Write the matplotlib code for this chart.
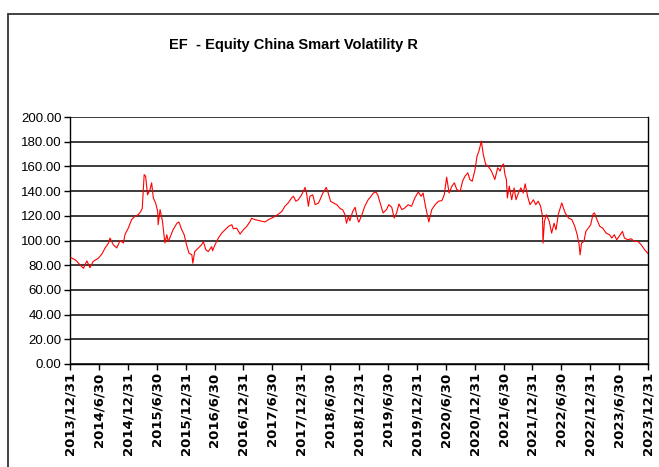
import matplotlib
matplotlib.use('Agg')
import matplotlib.pyplot as plt
from matplotlib.patches import Rectangle

# readings: month offset from 2013/12/31, NAV value
months = [0.2, 1.2, 2.4, 2.8, 3.5, 4.15, 4.8, 5.9, 6.6, 7.3, 8.0, 8.3, 9.0, 9.7,
          10.4, 11.1, 11.4, 12.1, 12.8, 13.5, 14.2, 14.7, 15.0, 15.4, 15.7, 16.1,
          16.6, 16.95, 17.3, 17.8, 18.2, 18.3, 18.7, 19.2, 19.7, 20.1, 20.4, 21.0,
          21.4, 22.2, 22.6, 23.2, 23.7, 24.2, 24.7, 25.3, 25.5, 25.9, 26.6, 27.3,
          27.7, 28.2, 28.7, 29.4,
          29.6, 30.1, 30.8, 31.5, 32.2, 32.9, 33.6, 33.9, 34.6, 35.3, 36.0, 36.7,
          37.4, 37.7, 38.4, 39.4, 40.5, 41.2, 41.9, 42.6, 43.3, 44.0, 44.6, 45.3,
          46.0, 46.4, 46.9, 47.4, 48.1, 48.8, 49.1, 49.5, 49.8, 50.4, 50.9, 51.6,
          51.9, 52.5, 53.2, 53.6, 54.1, 54.7, 55.4, 56.1, 56.6, 57.1, 57.4, 57.8,
          58.1, 58.7, 59.2, 59.5, 59.9,
          60.0, 60.6, 61.2, 61.9, 62.5, 63.0, 63.5, 63.9, 64.4, 65.0, 65.7, 66.2,
          66.8, 67.3, 67.8, 68.3, 68.9, 69.5, 70.2, 70.9, 71.6, 72.3, 72.9, 73.3,
          73.8, 74.5, 75.1, 75.8, 76.5, 77.2, 77.7, 78.2, 78.7, 79.3, 79.8, 80.3,
          81.0, 81.5, 82.0, 82.6, 83.0, 83.5, 84.1, 84.5, 84.9, 85.4, 85.8, 86.3,
          86.8, 87.5, 88.2, 88.8, 89.3,
          89.6, 90.0, 90.3, 90.6, 90.8, 91.2, 91.7, 92.2, 92.6, 93.1, 93.6, 94.1,
          94.5, 95.0, 95.5, 96.2, 96.7, 97.2, 97.7, 98.1, 98.2, 98.5, 98.9, 99.5,
          100.0, 100.5, 100.9, 101.4, 102.1, 102.8, 103.5, 104.2, 104.8, 105.3,
          105.7, 105.9, 106.2, 106.7, 107.1, 107.6, 108.1, 108.6, 108.9, 109.4,
          110.0, 110.6, 111.3, 112.0, 112.5, 113.0, 113.5, 114.0, 114.7, 115.1,
          115.8, 116.5, 117.2, 117.9, 118.6, 119.3, 120.0]
nav = [86.2, 84, 79, 77.5, 83.5, 78, 83, 85.7, 89, 94, 98, 102, 96.5, 94,
       100, 98, 104.7, 110, 117, 119.6, 121, 123.6, 126, 153.4, 152, 137,
       141, 146.7, 134.5, 130, 123.6, 112.8, 125, 115.5, 98, 104.7, 99, 104.7,
       108.7, 114, 115, 108.7, 104.7, 96.5, 89.8, 88.4, 81.6, 91, 93.8, 96.5,
       99, 92.5, 91, 95,
       91.7, 96.5, 102, 106, 108.7, 111.4, 112.8, 109.5, 110, 105.2, 108.7, 111.4,
       115.5, 118, 116.9, 116, 115, 116.9, 118.2, 119.6, 121.5, 123.6, 127.7, 130.4,
       134.5, 135.8, 131.8, 133, 137, 143, 138.5, 127.7, 135.8, 137, 129, 130.4,
       133, 138.5, 143, 138.5, 131.8, 130.4, 129, 125.8, 125, 120.9, 114, 119.6,
       116, 123.6, 126.9, 120.9, 115,
       115, 120.9, 127.7, 133, 135.8, 138.5, 139.3, 137, 130.4, 122.3, 125, 129,
       126.9, 118.2, 122.3, 129.6, 125, 126.3, 129, 127.7, 134.5, 139.3, 135.8, 138.5,
       127.7, 115, 125, 129, 131.8, 132.3, 137, 151.3, 138.5, 144, 146.7, 141.2,
       139.9, 148, 152, 154.8, 149.4, 148, 157.5, 168.3, 172.4, 180.5, 169.7, 161.6,
       160.2, 156.2, 149.4, 158.9, 156.2,
       160.2, 162, 153.4, 149.4, 134.5, 144, 133, 142.6, 133, 138.5, 142.6, 138.5,
       145.9, 135.8, 129, 133, 129, 131.8, 127.7, 119.6, 97.9, 115.5, 120.9, 115.5,
       106, 114, 108.7, 121.5, 130.4, 122.3, 118.2, 116.9, 111.4, 104.7,
       96.5, 88.4, 97.9, 99.2, 107.4, 110, 112.8, 121.5, 122.3, 116.9,
       111.4, 110, 106, 104.7, 102, 104.7, 100.6, 103.3, 107.4, 102,
       100.6, 101.4, 99.2, 99.2, 96.5, 92.5, 89.5]

tick_months = [0, 6, 12, 18, 24, 30, 36, 42, 48, 54, 60, 66, 72, 78, 84, 90,
               96, 102, 108, 114, 120]
tick_labels = ['2013/12/31', '2014/6/30', '2014/12/31', '2015/6/30', '2015/12/31',
               '2016/6/30', '2016/12/31', '2017/6/30', '2017/12/31', '2018/6/30',
               '2018/12/31', '2019/6/30', '2019/12/31', '2020/6/30', '2020/12/31',
               '2021/6/30', '2021/12/31', '2022/6/30', '2022/12/31', '2023/6/30',
               '2023/12/31']
y_ticks = [0, 20, 40, 60, 80, 100, 120, 140, 160, 180, 200]

fig = plt.figure(figsize=(6.59, 4.67), dpi=100)
ax = fig.add_axes([70/659, 1-364/467, 578/659, 247/467])

# outer frame, cut off at right and bottom like the source
fig.patches.append(Rectangle((8/659, -0.1), 1.2, 1-13.5/467+0.1, transform=fig.transFigure,
                             fill=False, edgecolor='#333333', lw=1.3))

for v in y_ticks:
    ax.axhline(v, color='#1a1a1a', lw=1.2, zorder=1)
ax.plot(months, nav, color='red', lw=0.8, zorder=3)

ax.set_xlim(0, 120)
ax.set_ylim(0, 200)
ax.set_yticks(y_ticks)
ax.set_yticklabels(['%.2f' % v for v in y_ticks], family='Liberation Sans', fontsize=9.5)
ax.set_xticks(tick_months)
ax.set_xticklabels(tick_labels, rotation=90, fontsize=9.5, fontweight='bold')
ax.tick_params(axis='both', direction='out', length=4, width=1, color='black', pad=2)
for s in ['left', 'right', 'bottom']:
    ax.spines[s].set_color('black')
    ax.spines[s].set_linewidth(1)
ax.spines['top'].set_visible(False)

fig.text(0.446, 0.904, 'EF  - Equity China Smart Volatility R', ha='center', va='center',
         family='Liberation Sans', fontweight='bold', fontsize=10.5)

fig.savefig('out.png', dpi=100)
